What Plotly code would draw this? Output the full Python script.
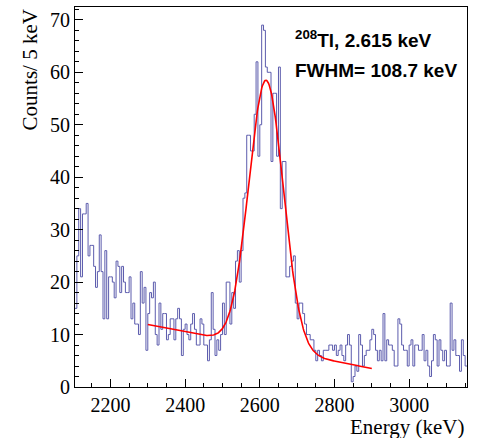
import numpy as np
import plotly.graph_objects as go

# Histogram: 5 keV bins from 2105 to 3155 keV
bin_start = 2105
bin_width = 5
counts = [
    15, 25, 34, 21, 33, 33, 35, 25, 27, 27,
    23, 19, 22, 29, 22, 13, 26, 13, 21, 21,
    20, 17, 24, 23, 18, 23, 20, 18, 18, 21,
    13, 16, 12, 12, 10, 22, 16, 19, 7, 14,
    18, 17, 20, 10, 8, 16, 11, 14, 14, 9,
    10, 13, 13, 9, 13, 15, 13, 6, 11, 12,
    10, 9, 12, 14, 11, 8, 8, 13, 12, 8,
    8, 5, 9, 18, 11, 6, 9, 7, 10, 16,
    10, 20, 20, 12, 18, 15, 24, 26, 20, 26,
    36, 37, 48, 48, 45, 45, 52, 62, 44, 50,
    69, 68, 61, 60, 60, 43, 56, 56, 44, 61,
    34, 43, 43, 21, 21, 23, 24, 25, 16, 13,
    16, 16, 14, 12, 10, 10, 9, 9, 7, 5,
    7, 6, 5, 7, 7, 7, 8, 8, 7, 8,
    6, 7, 8, 6, 5, 8, 10, 8, 1, 2,
    4, 3, 10, 8, 4, 6, 7, 7, 9, 11,
    10, 7, 5, 7, 5, 14, 5, 9, 8, 8,
    7, 4, 4, 13, 12, 8, 7, 7, 4, 8,
    9, 4, 8, 8, 7, 7, 10, 5, 7, 4,
    2, 5, 10, 9, 4, 9, 7, 5, 7, 4,
    4, 16, 7, 9, 6, 6, 3, 9, 6, 4,
]
assert len(counts) == 210

# Fit (Gaussian + linear background) parameters
fit_range = [2300, 2900]
fit_mean = 2617.0
fit_fwhm = 108.7
fit_amp = 51.0
bg_at_2300 = 11.9
bg_slope = -0.01395

x_range = [2105, 3155]
y_max = 72.45

edges = [bin_start + bin_width * i for i in range(len(counts) + 1)]
y_step = counts + [counts[-1]]

sigma = fit_fwhm / 2.3548
xf = np.linspace(fit_range[0], fit_range[1], 400)
yf = fit_amp * np.exp(-0.5 * ((xf - fit_mean) / sigma) ** 2) + bg_at_2300 + bg_slope * (xf - 2300)

fig = go.Figure()
fig.add_trace(go.Scatter(
    x=edges, y=y_step, mode="lines", line=dict(shape="hv", color="#5c5cad", width=1),
    hoverinfo="skip", showlegend=False))
fig.add_trace(go.Scatter(
    x=xf, y=yf, mode="lines", line=dict(color="#ff0000", width=1.6),
    hoverinfo="skip", showlegend=False))

serif = "Liberation Serif, Times New Roman, serif"
sans = "Liberation Sans, Arial, sans-serif"

fig.update_layout(
    width=483, height=438,
    margin=dict(l=75, r=16, t=7, b=51),
    paper_bgcolor="white", plot_bgcolor="white",
    xaxis=dict(
        range=x_range, dtick=200, tick0=0, ticks="inside", ticklen=8, tickwidth=1,
        tickcolor="black", showline=True, linecolor="black", linewidth=1, mirror=True,
        showgrid=False, zeroline=False,
        tickfont=dict(family=serif, size=20, color="black"),
        minor=dict(dtick=50, tick0=0, ticks="inside", ticklen=4, tickcolor="black", showgrid=False),
    ),
    yaxis=dict(
        range=[0, y_max], dtick=10, tick0=0, ticks="inside", ticklen=8, tickwidth=1,
        tickcolor="black", showline=True, linecolor="black", linewidth=1, mirror=True,
        showgrid=False, zeroline=False,
        tickfont=dict(family=serif, size=20, color="black"),
        minor=dict(dtick=2, tick0=0, ticks="inside", ticklen=4, tickcolor="black", showgrid=False),
    ),
)

fig.add_annotation(
    text="Counts/ 5 keV", textangle=-90, xref="paper", yref="paper",
    x=-0.115, y=1.0, xanchor="center", yanchor="top", showarrow=False,
    font=dict(family=serif, size=21, color="black"))
fig.add_annotation(
    text="Energy (keV)", xref="paper", yref="paper",
    x=1.0, y=-0.105, xanchor="right", yanchor="middle", showarrow=False,
    font=dict(family=serif, size=21, color="black"))
fig.add_annotation(
    text="<b><sup>208</sup>Tl, 2.615 keV</b>", xref="paper", yref="paper",
    x=0.556, y=0.915, xanchor="left", yanchor="middle", showarrow=False,
    font=dict(family=sans, size=19, color="black"))
fig.add_annotation(
    text="<b>FWHM= 108.7 keV</b>", xref="paper", yref="paper",
    x=0.556, y=0.833, xanchor="left", yanchor="middle", showarrow=False,
    font=dict(family=sans, size=19, color="black"))

fig.write_html("out.html")
